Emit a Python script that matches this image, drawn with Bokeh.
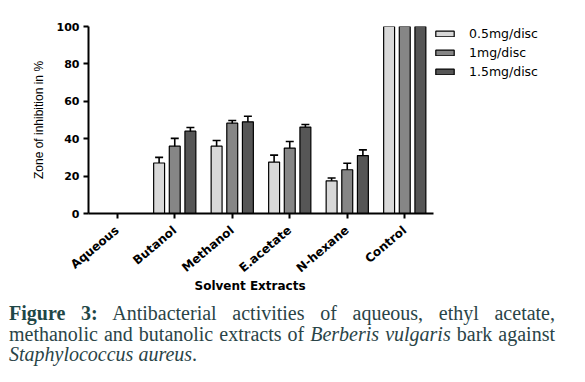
import math
from bokeh.plotting import figure
from bokeh.models import (ColumnDataSource, Whisker, TeeHead, Legend, LegendItem,
                          Title, Div)
from bokeh.transform import dodge
from bokeh.layouts import column
from bokeh.embed import file_html
from bokeh.resources import INLINE

# ---- data ----
categories = ["Aqueous", "Butanol", "Methanol", "E.acetate", "N-hexane", "Control"]
series = ["0.5mg/disc", "1mg/disc", "1.5mg/disc"]
v05 = [0, 27, 36, 27.5, 17.5, 100]
e05 = [0, 3, 3, 3.7, 1.5, 0]
v1 = [0, 36, 48.3, 35, 23.4, 100]
e1 = [0, 4.2, 1.4, 3.5, 3.5, 0]
v15 = [0, 44, 49, 46.2, 31, 100]
e15 = [0, 2, 3, 1.4, 3, 0]
yticks = [0, 20, 40, 60, 80, 100]

colors = ["#d8d8d8", "#868686", "#565656"]
offsets = [-0.272, 0.0, 0.272]

p = figure(x_range=categories, y_range=(0, 100),
           frame_width=345, frame_height=187,
           min_border_left=88, min_border_right=144,
           min_border_top=26, min_border_bottom=80,
           output_backend="svg", toolbar_location=None)
p.xgrid.visible = False
p.ygrid.visible = False
p.outline_line_color = None
p.background_fill_color = "white"

renderers = []
for vals, errs, col, off in zip([v05, v1, v15], [e05, e1, e15], colors, offsets):
    src = ColumnDataSource(dict(cat=categories, top=vals))
    r = p.vbar(x=dodge("cat", off, range=p.x_range), top="top", width=0.19,
               source=src, fill_color=col, line_color="black", line_width=1.2)
    renderers.append(r)
    wc = [c for c, e in zip(categories, errs) if e > 0]
    wu = [v + e for v, e in zip(vals, errs) if e > 0]
    wl = [v - e for v, e in zip(vals, errs) if e > 0]
    wsrc = ColumnDataSource(dict(cat=wc, up=wu, lo=wl))
    w = Whisker(base=dodge("cat", off, range=p.x_range), upper="up", lower="lo",
                source=wsrc, line_color="black", line_width=1.6,
                upper_head=TeeHead(size=8, line_color="black", line_width=1.6),
                lower_head=TeeHead(size=8, line_color="black", line_width=1.6))
    p.add_layout(w)

# y axis
p.yaxis.ticker = yticks
p.yaxis.axis_line_width = 2
p.yaxis.major_tick_line_width = 2
p.yaxis.major_tick_out = 5
p.yaxis.major_tick_in = 0
p.yaxis.minor_tick_line_color = None
p.yaxis.major_label_text_font = "DejaVu Sans"
p.yaxis.major_label_text_font_style = "bold"
p.yaxis.major_label_text_font_size = "11px"
p.yaxis.major_label_text_color = "black"
p.yaxis.major_label_standoff = 4
p.yaxis.axis_label = "Zone of inhibition in %"
p.yaxis.axis_label_text_font = "Liberation Sans"
p.yaxis.axis_label_text_font_style = "normal"
p.yaxis.axis_label_text_font_size = "12px"
p.yaxis.axis_label_text_color = "black"
p.yaxis.axis_label_standoff = 8

# x axis
p.xaxis.axis_line_width = 2
p.xaxis.major_tick_line_width = 2
p.xaxis.major_tick_out = 5
p.xaxis.major_tick_in = 0
p.xaxis.major_label_orientation = 0.70
p.xaxis.major_label_text_font = "DejaVu Sans"
p.xaxis.major_label_text_font_style = "bold"
p.xaxis.major_label_text_font_size = "12px"
p.xaxis.major_label_text_color = "black"
p.xaxis.major_label_standoff = 10

p.add_layout(Title(text="Solvent Extracts", align="left", offset=106, standoff=-9,
                   vertical_align="top",
                   text_font="DejaVu Sans", text_font_style="bold",
                   text_font_size="12px", text_color="black"), "below")

legend = Legend(items=[LegendItem(label=s, renderers=[r]) for s, r in zip(series, renderers)],
                location="top_left", margin=0, padding=10,
                glyph_width=23, glyph_height=7, label_standoff=13,
                spacing=4, label_height=14,
                border_line_color=None, background_fill_alpha=0,
                label_text_font="DejaVu Sans", label_text_font_size="12.5px",
                label_text_color="black")
p.add_layout(legend, "right")

caption = (
    '<div style="width:555px;padding-left:9px;font-family:\'Liberation Serif\',serif;'
    'font-size:20px;line-height:20.5px;color:#2a4447;">'
    '<div style="text-align:justify;text-align-last:justify;">'
    '<b style="color:#1f4747">Figure 3:</b> Antibacterial activities of aqueous, ethyl acetate,</div>'
    '<div style="text-align:justify;text-align-last:justify;">'
    'methanolic and butanolic extracts of <i>Berberis vulgaris</i> bark against</div>'
    '<div><i>Staphylococcus aureus</i>.</div></div>'
)
div = Div(text=caption, width=569, height=70, margin=(10, 0, 0, 0))

layout = column(p, div, spacing=0)
open("out.html", "w").write(file_html(layout, INLINE))
